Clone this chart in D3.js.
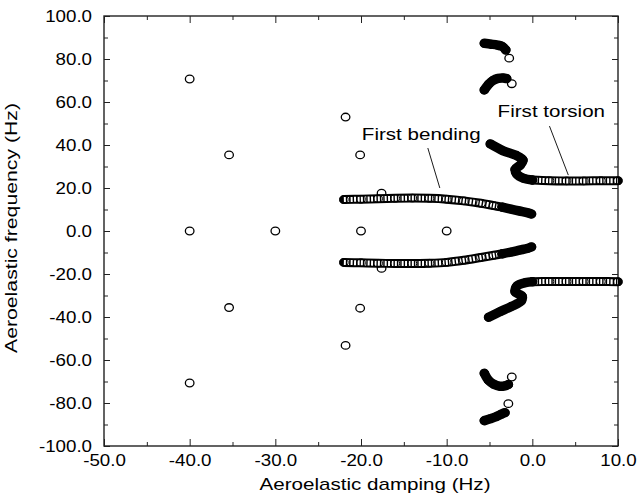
<!DOCTYPE html>
<html>
<head>
<meta charset="utf-8">
<script src="https://d3js.org/d3.v7.min.js"></script>
<style>
  body { margin: 0; background: #fff; font-family: "Liberation Sans", Arial, sans-serif; }
  svg { display: block; }
  .tick line { stroke: #222; stroke-width: 1; }
  .tick text { font-size: 16px; fill: #000; }
</style>
</head>
<body>
<div id="chart"></div>
<script>
// axis ticks
var xMajor = [-50, -40, -30, -20, -10, 0, 10];
var xMinor = [-45, -35, -25, -15, -5, 5];
var yMajor = [-100, -80, -60, -40, -20, 0, 20, 40, 60, 80, 100];
var yMinor = [-90, -70, -50, -30, -10, 10, 30, 50, 70, 90];

// isolated poles (open circles)
var poleX = [-40, -40, -40, -35.4, -35.4, -30, -21.8, -21.8, -20.1, -20.1, -20, -17.6, -17.6, -10, -2.7, -2.8, -2.4, -2.4];
var poleY = [70.7, 0, -70.7, 35.4, -35.6, 0, 53.0, -53.2, 35.4, -35.9, 0, 17.6, -17.4, 0, 80.4, -80.3, 68.5, -67.9];

// first bending, upper branch
var bendUpX = [-22, -20, -18, -16, -14, -12, -10, -8, -6, -4.5, -3.5];
var bendUpY = [14.6, 14.8, 15.0, 15.2, 15.3, 15.2, 14.8, 14.0, 12.9, 11.8, 11.1];
var bendUpSolidX = [-3.5, -2.5, -1.5, -0.5, -0.1];
var bendUpSolidY = [11.1, 10.2, 9.3, 8.4, 7.9];
// first bending, lower branch
var bendLoX = [-22, -20, -18, -16, -14, -12, -10, -8, -6, -4.5, -3.5];
var bendLoY = [-14.6, -14.8, -15.0, -15.1, -15.1, -15.0, -14.6, -13.6, -12.3, -11.3, -10.6];
var bendLoSolidX = [-3.5, -2.5, -1.5, -0.5, -0.1];
var bendLoSolidY = [-10.6, -9.8, -8.9, -8.0, -7.4];

// first torsion, upper branch
var torUpSolidX = [-4.9, -3.4, -1.9, -1.1, -1.4, -2.0, -1.8, -1.0, 0];
var torUpSolidY = [40.5, 37.3, 35.2, 33.0, 30.7, 28.7, 26.4, 24.5, 23.7];
var torUpX = [0, 2, 4, 6, 8, 10];
var torUpY = [23.7, 23.4, 23.3, 23.3, 23.4, 23.4];
// first torsion, lower branch
var torLoSolidX = [-5.1, -3.8, -2.4, -1.3, -1.2, -2.0, -1.8, -0.8, 0];
var torLoSolidY = [-40.1, -37.6, -35.0, -32.6, -30.3, -28.3, -25.6, -24.0, -23.6];
var torLoX = [0, 2, 4, 6, 8, 10];
var torLoY = [-23.6, -23.5, -23.5, -23.5, -23.5, -23.6];

// higher modes (dense, solid)
var m85UpX = [-5.6, -4.8, -4.1, -3.5, -3.1];
var m85UpY = [87.3, 86.9, 86.5, 85.8, 84.2];
var m68UpX = [-5.6, -5.1, -4.6, -4.0, -3.4, -3.0];
var m68UpY = [65.6, 68.3, 70.0, 71.0, 71.2, 70.9];
var m68LoX = [-5.6, -5.1, -4.5, -3.8, -3.2, -2.8];
var m68LoY = [-66.2, -69.5, -71.3, -72.2, -72.0, -71.4];
var m85LoX = [-5.6, -4.9, -4.2, -3.6, -3.2];
var m85LoY = [-88.2, -87.3, -86.3, -85.2, -84.5];

// annotations
var noteText = ["First bending", "First torsion"];
var noteX = [-19.9, -4.05];
var noteY = [42.3, 53.2];
var leadX1 = [-12.2, 2.0], leadY1 = [38.6, 48.8];
var leadX2 = [-10.8, 4.2], leadY2 = [20.0, 26.0];

var width = 637, height = 503;
var svg = d3.select("#chart").append("svg")
    .attr("width", width)
    .attr("height", height);

var x = d3.scaleLinear().domain([-50, 10]).range([104, 618]);
var y = d3.scaleLinear().domain([-100, 100]).range([446, 16]);

var fmt = function(d) { return d.toFixed(1); };

// axes: major + minor ticks on all four sides, pointing inward
svg.append("g").attr("transform", "translate(0,446)")
    .call(d3.axisBottom(x).tickValues(xMajor).tickSizeInner(-7).tickSizeOuter(0).tickPadding(9).tickFormat(fmt));
svg.append("g").attr("transform", "translate(0,446)")
    .call(d3.axisBottom(x).tickValues(xMinor).tickSizeInner(-4).tickSizeOuter(0).tickFormat(""));
svg.append("g").attr("transform", "translate(0,16)")
    .call(d3.axisTop(x).tickValues(xMajor).tickSizeInner(-7).tickSizeOuter(0).tickFormat(""));
svg.append("g").attr("transform", "translate(0,16)")
    .call(d3.axisTop(x).tickValues(xMinor).tickSizeInner(-4).tickSizeOuter(0).tickFormat(""));
svg.append("g").attr("transform", "translate(104,0)")
    .call(d3.axisLeft(y).tickValues(yMajor).tickSizeInner(-6).tickSizeOuter(0).tickPadding(12).tickFormat(fmt));
svg.append("g").attr("transform", "translate(104,0)")
    .call(d3.axisLeft(y).tickValues(yMinor).tickSizeInner(-4).tickSizeOuter(0).tickFormat(""));
svg.append("g").attr("transform", "translate(618,0)")
    .call(d3.axisRight(y).tickValues(yMajor).tickSizeInner(-6).tickSizeOuter(0).tickFormat(""));
svg.append("g").attr("transform", "translate(618,0)")
    .call(d3.axisRight(y).tickValues(yMinor).tickSizeInner(-4).tickSizeOuter(0).tickFormat(""));
svg.selectAll(".domain").remove();

// the tick font in the original is a little wide
svg.selectAll(".tick text").each(function() {
    var len = this.getComputedTextLength();
    d3.select(this).attr("textLength", len * 1.17).attr("lengthAdjust", "spacingAndGlyphs");
});

svg.append("rect")
    .attr("x", x(-50)).attr("y", y(100))
    .attr("width", x(10) - x(-50)).attr("height", y(-100) - y(100))
    .attr("fill", "none").attr("stroke", "#222").attr("stroke-width", 1.4);

// isolated poles first, tracks go over them
svg.append("g").selectAll("ellipse")
    .data(poleX.map(function(d, i) { return [d, poleY[i]]; }))
    .enter().append("ellipse")
    .attr("cx", function(d) { return x(d[0]); })
    .attr("cy", function(d) { return y(d[1]); })
    .attr("rx", 4.3).attr("ry", 3.8)
    .attr("fill", "#fff").attr("stroke", "#000").attr("stroke-width", 1.3);

var line = d3.line()
    .x(function(d) { return x(d[0]); })
    .y(function(d) { return y(d[1]); })
    .curve(d3.curveCatmullRom);

function track(xs, ys, solid) {
    var pts = xs.map(function(d, i) { return [d, ys[i]]; });
    var g = svg.append("g");
    g.append("path").attr("d", line(pts))
        .attr("fill", "none").attr("stroke", "#000")
        .attr("stroke-width", solid ? 9.5 : 9)
        .attr("stroke-linecap", "round").attr("stroke-linejoin", "round");
    if (!solid) {
        g.append("path").attr("d", line(pts))
            .attr("fill", "none").attr("stroke", "#fff")
            .attr("stroke-width", 5)
            .attr("stroke-dasharray", "2,1.4");
    }
    g.selectAll("ellipse").data(pts).enter().append("ellipse")
        .attr("cx", function(d) { return x(d[0]); })
        .attr("cy", function(d) { return y(d[1]); })
        .attr("rx", 4.3).attr("ry", 3.8)
        .attr("fill", solid ? "#000" : "none")
        .attr("stroke", "#000").attr("stroke-width", 1);
}

track(bendUpX, bendUpY, false);
track(bendUpSolidX, bendUpSolidY, true);
track(bendLoX, bendLoY, false);
track(bendLoSolidX, bendLoSolidY, true);
track(torUpX, torUpY, false);
track(torUpSolidX, torUpSolidY, true);
track(torLoX, torLoY, false);
track(torLoSolidX, torLoSolidY, true);
track(m85UpX, m85UpY, true);
track(m68UpX, m68UpY, true);
track(m68LoX, m68LoY, true);
track(m85LoX, m85LoY, true);

// labels with leader lines
noteText.forEach(function(t, i) {
    svg.append("line")
        .attr("x1", x(leadX1[i])).attr("y1", y(leadY1[i]))
        .attr("x2", x(leadX2[i])).attr("y2", y(leadY2[i]))
        .attr("stroke", "#000").attr("stroke-width", 0.9);
    var txt = svg.append("text")
        .attr("x", x(noteX[i])).attr("y", y(noteY[i]))
        .attr("font-size", 17).text(t);
    txt.attr("textLength", txt.node().getComputedTextLength() * 1.21)
        .attr("lengthAdjust", "spacingAndGlyphs");
});

// axis titles
svg.append("text")
    .attr("x", 375).attr("y", 490)
    .attr("text-anchor", "middle").attr("font-size", 17)
    .attr("textLength", 231).attr("lengthAdjust", "spacingAndGlyphs")
    .text("Aeroelastic damping (Hz)");
svg.append("text")
    .attr("transform", "translate(17,228) rotate(-90)")
    .attr("text-anchor", "middle").attr("font-size", 17)
    .attr("textLength", 250).attr("lengthAdjust", "spacingAndGlyphs")
    .text("Aeroelastic frequency (Hz)");
</script>
</body>
</html>
